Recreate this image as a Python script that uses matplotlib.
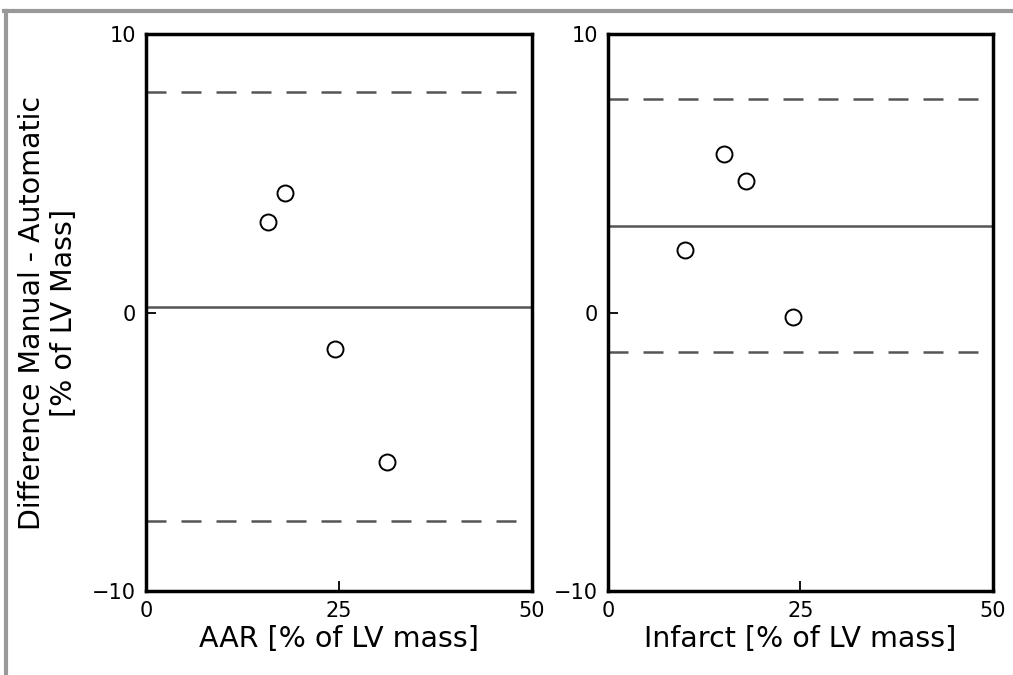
import numpy as np
import matplotlib.pyplot as plt
from matplotlib.lines import Line2D

# data
aar_x = [15.8, 18.0, 24.5, 31.2]
aar_diff = [3.25, 4.29, -1.31, -5.37]
aar_upper = 7.92
aar_lower = -7.49

inf_x = [10.0, 15.1, 17.9, 24.0]
inf_diff = [2.24, 5.69, 4.72, -0.16]
inf_upper = 7.66
inf_lower = -1.42

xlabels = ['AAR [% of LV mass]', 'Infarct [% of LV mass]']

fig = plt.figure(figsize=(10.13, 6.75), dpi=100)
ax1 = fig.add_axes([0.144, 0.1244, 0.381, 0.8252])
ax2 = fig.add_axes([0.600, 0.1244, 0.380, 0.8252])

panels = [(ax1, aar_x, aar_diff, aar_upper, aar_lower),
          (ax2, inf_x, inf_diff, inf_upper, inf_lower)]

for i, (ax, x, d, up, lo) in enumerate(panels):
    mean = np.mean(d)
    ax.axhline(mean, color='#555555', lw=1.8)
    ax.axhline(up, color='#555555', lw=1.8, ls=(0, (8, 6)))
    ax.axhline(lo, color='#555555', lw=1.8, ls=(0, (8, 6)))
    ax.plot(x, d, 'o', mfc='white', mec='black', ms=11.5, mew=1.4)
    ax.set_xlim(0, 50)
    ax.set_ylim(-10, 10)
    ax.set_xticks([0, 25, 50])
    ax.set_yticks([-10, 0, 10])
    ax.tick_params(direction='in', length=7, width=1.3, labelsize=15, pad=7)
    for s in ax.spines.values():
        s.set_linewidth(2.5)
    ax.set_xlabel(xlabels[i], fontsize=20.5, labelpad=3)

ax1.set_ylabel('Difference Manual - Automatic\n[% of LV Mass]', fontsize=20.5, labelpad=10)

# gray frame around the figure
fig.add_artist(Line2D([0.004, 1.0], [0.984, 0.984], color='#999999', lw=3))
fig.add_artist(Line2D([0.006, 0.006], [0.0, 0.984], color='#999999', lw=3))

plt.savefig('out.png', dpi=100)
